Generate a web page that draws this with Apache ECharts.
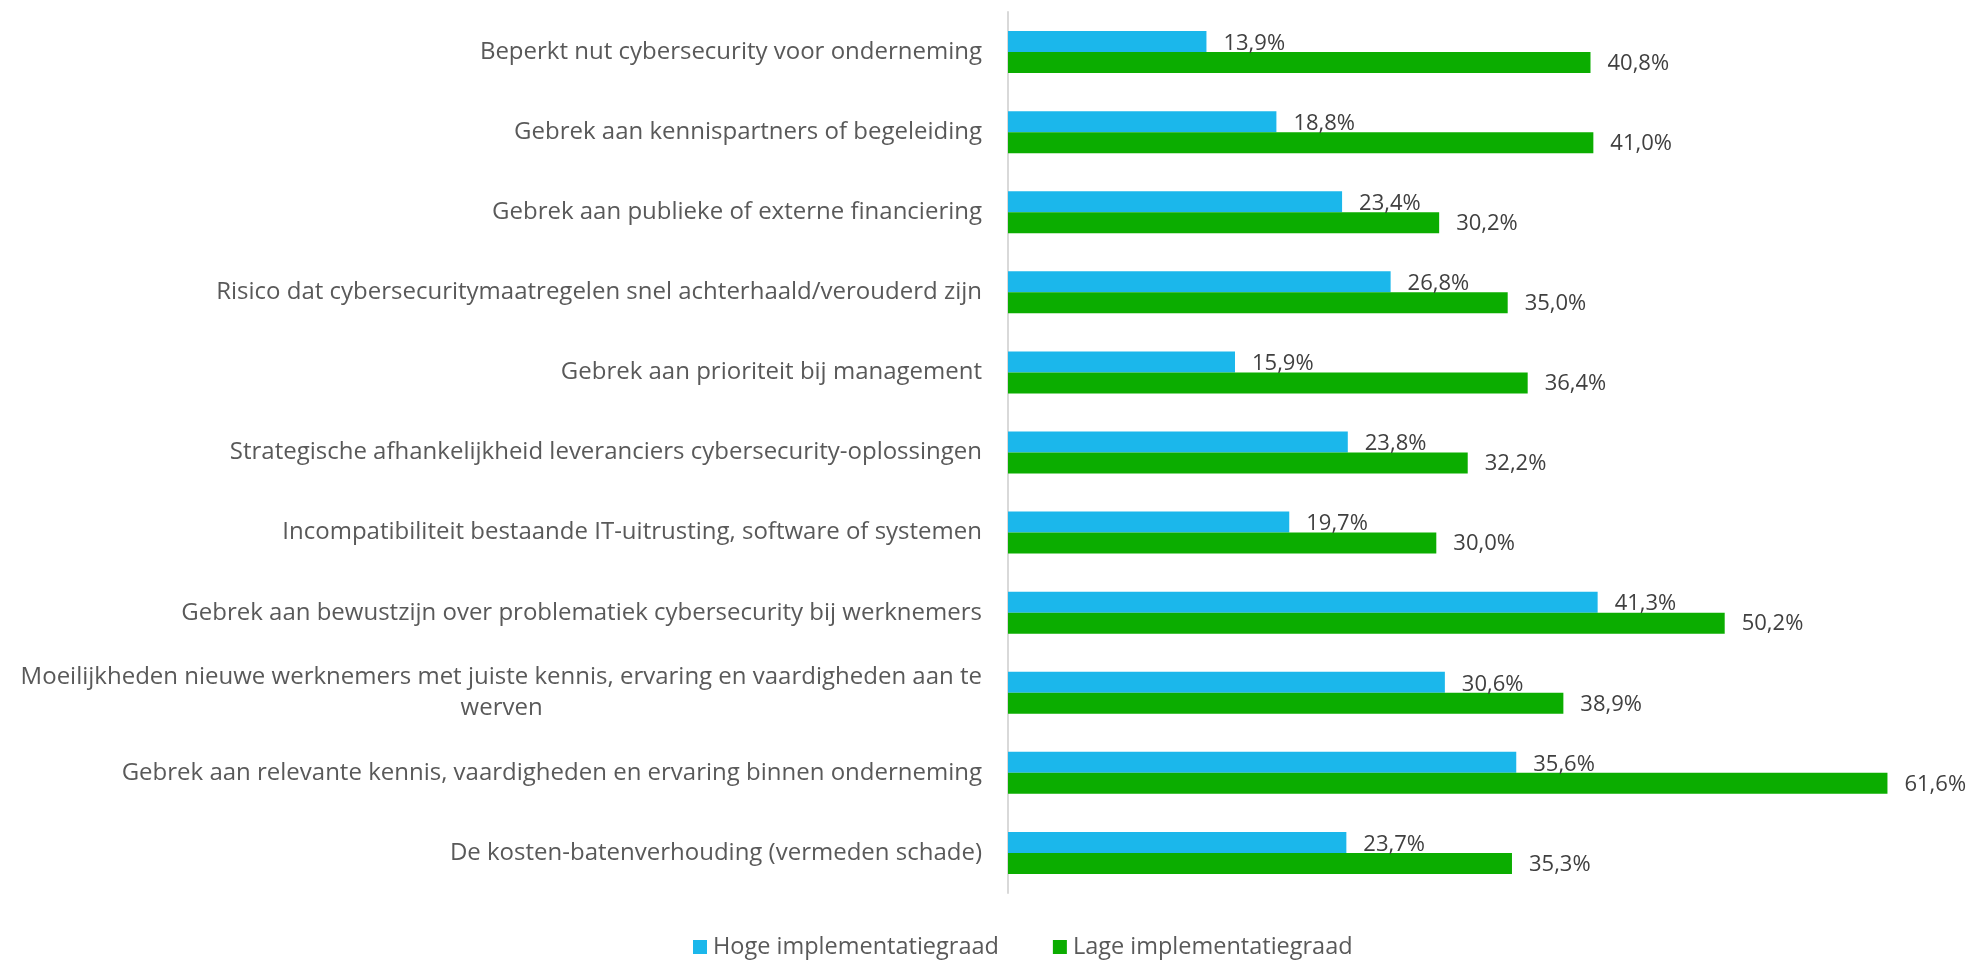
<!DOCTYPE html>
<html>
<head>
<meta charset="utf-8">
<script src="https://cdn.jsdelivr.net/npm/echarts@6/dist/echarts.min.js"></script>
<style>
  html, body { margin: 0; padding: 0; background: #ffffff; }
  #chart { width: 1969px; height: 961px; }
</style>
</head>
<body>
<div id="chart"></div>
<script>
// Obstacles, listed top to bottom
const categories = [
  'Beperkt nut cybersecurity voor onderneming',
  'Gebrek aan kennispartners of begeleiding',
  'Gebrek aan publieke of externe financiering',
  'Risico dat cybersecuritymaatregelen snel achterhaald/verouderd zijn',
  'Gebrek aan prioriteit bij management',
  'Strategische afhankelijkheid leveranciers cybersecurity-oplossingen',
  'Incompatibiliteit bestaande IT-uitrusting, software of systemen',
  'Gebrek aan bewustzijn over problematiek cybersecurity bij werknemers',
  'Moeilijkheden nieuwe werknemers met juiste kennis, ervaring en vaardigheden aan te\nwerven',
  'Gebrek aan relevante kennis, vaardigheden en ervaring binnen onderneming',
  'De kosten-batenverhouding (vermeden schade)'
];

const seriesNames = ['Hoge implementatiegraad', 'Lage implementatiegraad'];

// Percentages per category
const hoogValues = [13.9, 18.8, 23.4, 26.8, 15.9, 23.8, 19.7, 41.3, 30.6, 35.6, 23.7];
const laagValues = [40.8, 41.0, 30.2, 35.0, 36.4, 32.2, 30.0, 50.2, 38.9, 61.6, 35.3];

const FONT = '"Open Sans", "Noto Sans", sans-serif';
const CAT_SIZE = 24;
const CAT_LINE = 31;
const fmtPct = v => v.toFixed(1).replace('.', ',') + '%';

// Text width helper, used to centre the lines of wrapped category labels
const measureCtx = document.createElement('canvas').getContext('2d');
function textWidth(str, size) {
  measureCtx.font = size + 'px ' + FONT;
  return measureCtx.measureText(str).width;
}

// Left padding for each line of a wrapped label so that it sits centred under the widest line
function linePads(v) {
  const lines = v.split('\n');
  const widths = lines.map(s => textWidth(s, CAT_SIZE));
  const maxW = Math.max.apply(null, widths);
  return lines.map((s, i) => ({ text: s, pad: Math.round((maxW - widths[i]) / 2) }));
}

function categoryLabel(v) {
  if (v.indexOf('\n') < 0) return v;
  return linePads(v).map(l =>
    (l.pad > 0 ? '{p' + l.pad + '|}' : '') + '{t|' + l.text + '}'
  ).join('\n');
}

const richStyles = {
  t: { align: 'left', color: '#595959', fontFamily: FONT, fontSize: CAT_SIZE, lineHeight: CAT_LINE }
};
categories.forEach(v => {
  if (v.indexOf('\n') < 0) return;
  linePads(v).forEach(l => {
    if (l.pad > 0) {
      richStyles['p' + l.pad] = { align: 'left', width: l.pad, fontSize: CAT_SIZE, lineHeight: CAT_LINE };
    }
  });
});

const chart = echarts.init(document.getElementById('chart'), null, { renderer: 'canvas' });

const valueLabel = {
  show: true,
  position: 'right',
  distance: 17,
  color: '#404040',
  fontFamily: FONT,
  fontSize: 22,
  formatter: p => fmtPct(p.value)
};

chart.setOption({
  animation: false,
  backgroundColor: '#ffffff',
  grid: { left: 1008, right: 33, top: 12, bottom: 68, containLabel: false },
  xAxis: {
    type: 'value',
    min: 0,
    max: 65,
    show: false
  },
  yAxis: {
    type: 'category',
    inverse: true,
    data: categories,
    axisTick: { show: false },
    axisLine: { show: true, lineStyle: { color: '#d9d9d9', width: 2 } },
    splitLine: { show: false },
    axisLabel: {
      margin: 26,
      color: '#595959',
      fontFamily: FONT,
      fontSize: CAT_SIZE,
      lineHeight: CAT_LINE,
      align: 'right',
      formatter: categoryLabel,
      rich: richStyles
    }
  },
  legend: {
    top: 930,
    left: 688,
    itemWidth: 14,
    itemHeight: 14,
    itemGap: 54,
    icon: 'rect',
    textStyle: { color: '#595959', fontFamily: FONT, fontSize: 23.5, padding: [0, 0, 0, 1] },
    data: seriesNames
  },
  series: [
    {
      name: seriesNames[0],
      type: 'bar',
      data: hoogValues,
      barWidth: 21,
      barGap: '0%',
      itemStyle: { color: '#1bb7eb' },
      label: Object.assign({}, valueLabel, { offset: [0, 2] })
    },
    {
      name: seriesNames[1],
      type: 'bar',
      data: laagValues,
      barWidth: 21,
      barGap: '0%',
      itemStyle: { color: '#0bad00' },
      label: Object.assign({}, valueLabel, { offset: [0, 1] })
    }
  ]
});
</script>
</body>
</html>
